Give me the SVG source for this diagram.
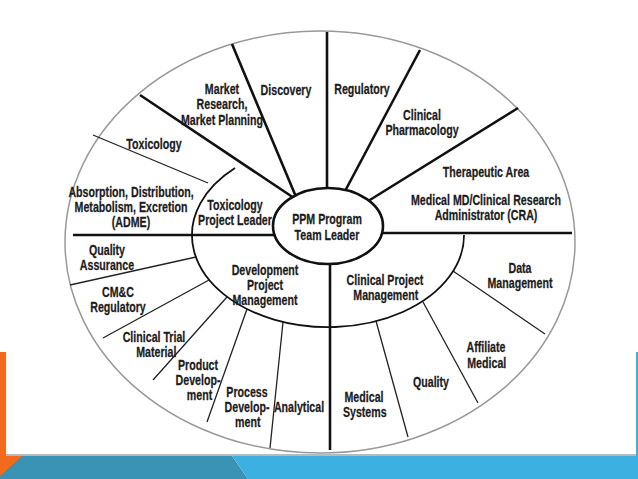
<svg xmlns="http://www.w3.org/2000/svg" width="638" height="479" viewBox="0 0 638 479">
<style>
.lbl{font-family:"Liberation Sans",Arial,sans-serif;font-weight:bold;font-size:14px;text-anchor:middle;fill:#1c1c1c;stroke:#1c1c1c;stroke-width:0.25}
.thick{stroke:#111;stroke-width:2.6;fill:none;stroke-linecap:butt}
.thin{stroke:#222;stroke-width:1.3;fill:none}
</style>
<rect x="0" y="0" width="638" height="479" fill="#ffffff"/>
<g id="frame">
<polygon points="0,352 6,352 6,456 22,456 0,476" fill="#f26b1d"/>
<rect x="636" y="352" width="2" height="104" fill="#3cb0e0"/>
<polygon points="0,456 232,456 248,479 0,479" fill="#3a93b4"/>
<polygon points="232,456 638,456 638,479 248,479" fill="#3cb0e0"/>
<polygon points="0,456 22,456 0,476" fill="#f26b1d"/>
<line x1="6" y1="455" x2="636" y2="455" stroke="#9aa5aa" stroke-width="1.5"/>
</g>
<g id="outer">
<ellipse cx="320" cy="242" rx="255" ry="211" fill="#fff" stroke="#999" stroke-width="1.5"/>
</g>
<g id="connectors">
<line class="thick" x1="327" y1="32" x2="327" y2="226"/>
<line class="thick" x1="232" y1="44" x2="299" y2="204"/>
<line class="thick" x1="140" y1="95" x2="297" y2="200"/>
<line class="thick" x1="420" y1="50" x2="344" y2="193"/>
<line class="thick" x1="518" y1="108" x2="365" y2="203"/>
<line class="thick" x1="73" y1="235" x2="290" y2="235"/>
<line class="thick" x1="365" y1="233" x2="572" y2="233"/>
<line class="thick" x1="330" y1="240" x2="330" y2="450"/>
<line class="thin" x1="93" y1="135" x2="208" y2="183"/>
<line class="thin" x1="196" y1="257" x2="70" y2="285"/>
<line class="thin" x1="209" y1="280" x2="103" y2="338"/>
<line class="thin" x1="227" y1="297" x2="153" y2="380"/>
<line class="thin" x1="247" y1="309" x2="207" y2="422"/>
<line class="thin" x1="283" y1="322" x2="270" y2="448"/>
<line class="thin" x1="376" y1="321" x2="408" y2="437"/>
<line class="thin" x1="423" y1="302" x2="478" y2="403"/>
<line class="thin" x1="453" y1="271" x2="545" y2="334"/>
</g>
<g id="ring">
<path d="M235,168 A136,92 0 1 0 464,235" fill="none" stroke="#111" stroke-width="1.8"/>
</g>
<g id="center-node">
<ellipse cx="328" cy="226" rx="55" ry="38" fill="#fff" stroke="#111" stroke-width="2.6"/>
<text class="lbl" transform="translate(327,224) scale(0.76,1)"><tspan x="0" dy="0">PPM Program</tspan><tspan x="0" dy="16">Team Leader</tspan></text>
</g>
<g id="n-discovery"><text class="lbl" transform="translate(286,95) scale(0.76,1)">Discovery</text></g>
<g id="n-market"><text class="lbl" transform="translate(222,94) scale(0.76,1)"><tspan x="0" dy="0">Market</tspan><tspan x="0" dy="15.5">Research,</tspan><tspan x="0" dy="15.5">Market Planning</tspan></text></g>
<g id="n-toxicology"><text class="lbl" transform="translate(154,149) scale(0.76,1)">Toxicology</text></g>
<g id="n-adme"><text class="lbl" transform="translate(131,197) scale(0.76,1)"><tspan x="0" dy="0">Absorption, Distribution,</tspan><tspan x="0" dy="15">Metabolism, Excretion</tspan><tspan x="0" dy="15">(ADME)</tspan></text></g>
<g id="n-toxleader"><text class="lbl" transform="translate(235,210) scale(0.76,1)"><tspan x="0" dy="0">Toxicology</tspan><tspan x="0" dy="15">Project Leader</tspan></text></g>
<g id="n-regulatory"><text class="lbl" transform="translate(362,94) scale(0.76,1)">Regulatory</text></g>
<g id="n-clinpharm"><text class="lbl" transform="translate(422,120) scale(0.76,1)"><tspan x="0" dy="0">Clinical</tspan><tspan x="0" dy="15">Pharmacology</tspan></text></g>
<g id="n-therapeutic"><text class="lbl" transform="translate(486,177) scale(0.76,1)"><tspan x="0" dy="0">Therapeutic Area</tspan><tspan x="0" dy="28">Medical MD/Clinical Research</tspan><tspan x="0" dy="15">Administrator (CRA)</tspan></text></g>
<g id="n-qa"><text class="lbl" transform="translate(107,255) scale(0.76,1)"><tspan x="0" dy="0">Quality</tspan><tspan x="0" dy="15.5">Assurance</tspan></text></g>
<g id="n-cmc"><text class="lbl" transform="translate(118,297) scale(0.76,1)"><tspan x="0" dy="0">CM&amp;C</tspan><tspan x="0" dy="15">Regulatory</tspan></text></g>
<g id="n-ctm"><text class="lbl" transform="translate(154,342) scale(0.76,1)"><tspan x="0" dy="0">Clinical Trial</tspan><tspan x="3" dy="15">Material</tspan></text></g>
<g id="n-product"><text class="lbl" transform="translate(198,370) scale(0.76,1)"><tspan x="0" dy="0">Product</tspan><tspan x="0" dy="15">Develop-</tspan><tspan x="2" dy="15">ment</tspan></text></g>
<g id="n-process"><text class="lbl" transform="translate(247,397) scale(0.76,1)"><tspan x="0" dy="0">Process</tspan><tspan x="0" dy="15">Develop-</tspan><tspan x="1" dy="15">ment</tspan></text></g>
<g id="n-analytical"><text class="lbl" transform="translate(299,412) scale(0.76,1)">Analytical</text></g>
<g id="n-devpm"><text class="lbl" transform="translate(265,275) scale(0.76,1)"><tspan x="0" dy="0">Development</tspan><tspan x="0" dy="15">Project</tspan><tspan x="0" dy="15">Management</tspan></text></g>
<g id="n-clinpm"><text class="lbl" transform="translate(385,285) scale(0.76,1)"><tspan x="0" dy="0">Clinical Project</tspan><tspan x="1" dy="15">Management</tspan></text></g>
<g id="n-data"><text class="lbl" transform="translate(520,273) scale(0.76,1)"><tspan x="0" dy="0">Data</tspan><tspan x="0" dy="15">Management</tspan></text></g>
<g id="n-affiliate"><text class="lbl" transform="translate(486,352) scale(0.76,1)"><tspan x="0" dy="0">Affiliate</tspan><tspan x="1" dy="16">Medical</tspan></text></g>
<g id="n-quality"><text class="lbl" transform="translate(431,387) scale(0.76,1)">Quality</text></g>
<g id="n-medsys"><text class="lbl" transform="translate(364,402) scale(0.76,1)"><tspan x="0" dy="0">Medical</tspan><tspan x="1" dy="15">Systems</tspan></text></g>
</svg>
